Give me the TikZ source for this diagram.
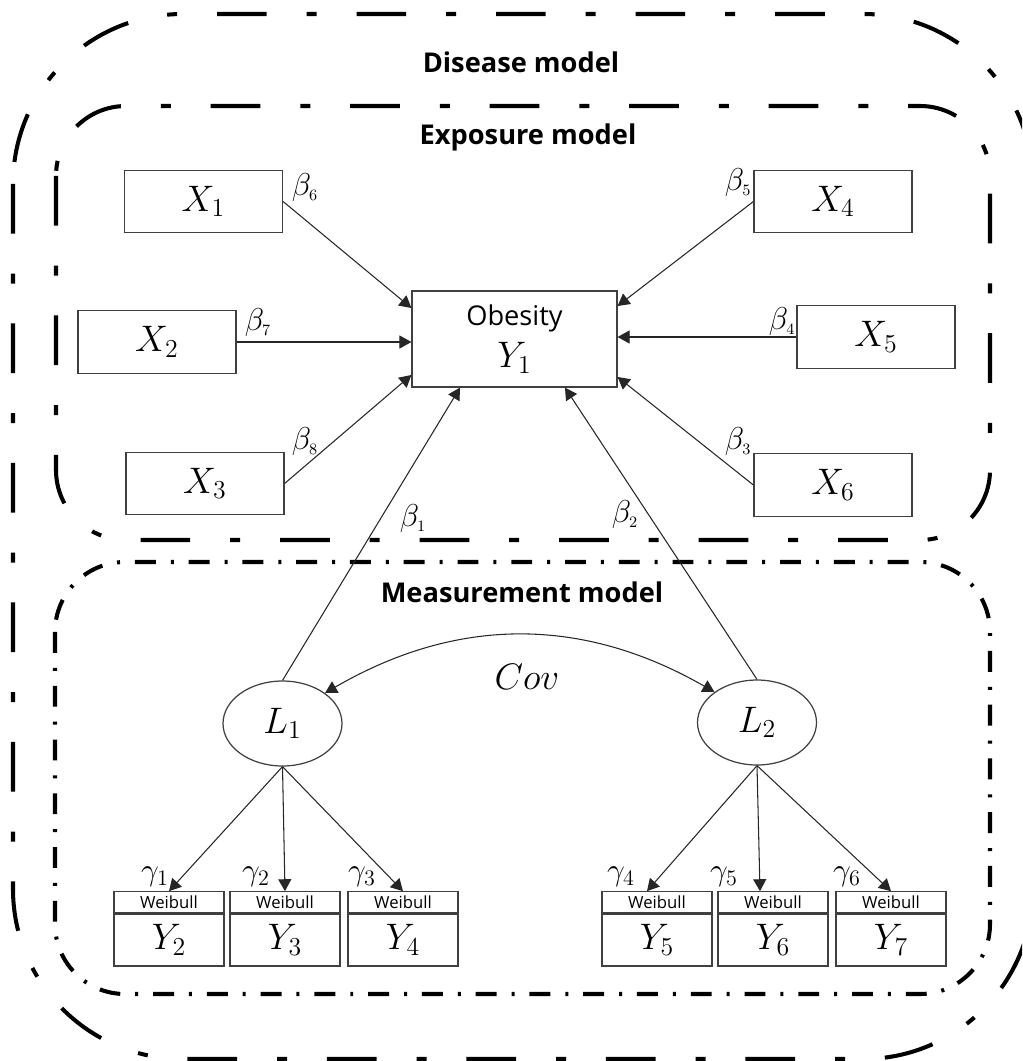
\RequirePackage{fix-cm}
\documentclass[tikz,border=0pt]{standalone}
\usepackage{fontspec}
\setmainfont{Open Sans}
\usetikzlibrary{arrows.meta, shapes.geometric}

\tikzset{
  >={Triangle[length=6.8pt, width=7.4pt]},
  model/.style={line width=2.3pt, rounded corners=1.4cm},
  longdashdot/.style={dash pattern=on 28.3pt off 22.7pt on 5.7pt off 22.7pt},
  shortdashdot/.style={dash pattern=on 11.9pt off 8.5pt on 1.7pt off 8.5pt},
  title/.style={font=\fontsize{15.5}{18}\selectfont\bfseries},
  obs/.style={draw=black!75, line width=0.7pt, minimum width=3.16cm, minimum height=1.25cm, font=\fontsize{21}{25}\selectfont},
  latent/.style={ellipse, draw=black!75, line width=0.7pt, minimum width=2.38cm, minimum height=1.7cm, inner sep=0pt, font=\fontsize{21}{25}\selectfont},
  wtop/.style={draw=black!75, line width=0.7pt, minimum width=2.2cm, minimum height=0.42cm, inner sep=0pt, font=\fontsize{9.5}{10}\selectfont},
  wbox/.style={draw=black!75, line width=0.7pt, minimum width=2.2cm, minimum height=1.04cm, inner sep=0pt, font=\fontsize{21}{25}\selectfont},
  link/.style={->, line width=0.6pt, draw=black!85},
  cov/.style={<->, line width=0.6pt, draw=black!85},
  coef/.style={inner sep=0pt, font=\fontsize{18}{20}\selectfont}
}

\begin{document}
\begin{tikzpicture}[x=0.02cm, y=-0.02cm]
\useasboundingbox (0,0) rectangle (1022,1061);
\clip (0,0) rectangle (1022,1061);

% the three model frames
\draw[model, longdashdot, rounded corners=3.4cm] (13,14) rectangle (1033,1059);
\draw[model, longdashdot] (56,106) rectangle (990,540);
\draw[model, shortdashdot] (55,562) rectangle (990,994);

\node[title] (disease) at (521,62) {Disease model};
\node[title] (exposure) at (528,137) {Exposure model};
\node[title] (measure) at (522,592) {Measurement model};

% exposure model
\node[obs, minimum width=4.1cm, minimum height=1.92cm, align=center] (Y1) at (514.5,339)
  {{\fontsize{15.5}{18}\selectfont Obesity}\\[-1pt]$Y_1$};
\node[obs] (X1) at (203.5,201.5) {$X_1$};
\node[obs] (X2) at (157,342) {$X_2$};
\node[obs] (X3) at (205,483.5) {$X_3$};
\node[obs] (X4) at (833,201.5) {$X_4$};
\node[obs] (X5) at (876,337) {$X_5$};
\node[obs] (X6) at (833,485) {$X_6$};

\draw[link] (X1.east) -- ([yshift=0.62cm]Y1.west);
\draw[link] (X2.east) -- (X2.east -| Y1.west);
\draw[link] (X3.east) -- ([yshift=-0.72cm]Y1.west);
\draw[link] (X4.west) -- ([yshift=0.66cm]Y1.east);
\draw[link] (X5.west) -- (X5.west -| Y1.east);
\draw[link] (X6.west) -- ([yshift=-0.76cm]Y1.east);

\node[coef] (b6) at (305,188) {$\beta_{\scriptscriptstyle 6}$};
\node[coef] (b7) at (258,323) {$\beta_{\scriptscriptstyle 7}$};
\node[coef] (b8) at (305,442) {$\beta_{\scriptscriptstyle 8}$};
\node[coef] (b5) at (738,183) {$\beta_{\scriptscriptstyle 5}$};
\node[coef] (b4) at (782,322) {$\beta_{\scriptscriptstyle 4}$};
\node[coef] (b3) at (738,442) {$\beta_{\scriptscriptstyle 3}$};
\node[coef] (b1) at (413,519) {$\beta_{\scriptscriptstyle 1}$};
\node[coef] (b2) at (625,515) {$\beta_{\scriptscriptstyle 2}$};

% measurement model
\node[latent] (L1) at (282.5,723.5) {$L_1$};
\node[latent] (L2) at (757,722.5) {$L_2$};

\draw[link] (L1.north) -- ([xshift=-1.09cm]Y1.south);
\draw[link] (L2.north) -- ([xshift=1.01cm]Y1.south);
\draw[cov] (L1.north east) to[bend left=30] (L2.north west);
\node[font=\fontsize{21}{25}\selectfont] (covlab) at (527,677) {$Cov$};

\node[wbox] (Y2) at (169,940) {$Y_2$};
\node[wbox] (Y3) at (285,940) {$Y_3$};
\node[wbox] (Y4) at (403,940) {$Y_4$};
\node[wbox] (Y5) at (657,940) {$Y_5$};
\node[wbox] (Y6) at (773,940) {$Y_6$};
\node[wbox] (Y7) at (891,940) {$Y_7$};
\node[wtop, anchor=south] (w2) at (Y2.north) {Weibull};
\node[wtop, anchor=south] (w3) at (Y3.north) {Weibull};
\node[wtop, anchor=south] (w4) at (Y4.north) {Weibull};
\node[wtop, anchor=south] (w5) at (Y5.north) {Weibull};
\node[wtop, anchor=south] (w6) at (Y6.north) {Weibull};
\node[wtop, anchor=south] (w7) at (Y7.north) {Weibull};

\draw[link] (L1.south) -- (w2.north);
\draw[link] (L1.south) -- (w3.north);
\draw[link] (L1.south) -- (w4.north);
\draw[link] (L2.south) -- ([xshift=-0.2cm]w5.north);
\draw[link] (L2.south) -- ([xshift=-0.26cm]w6.north);
\draw[link] (L2.south) -- (w7.north);

\node[coef] (g1) at (155,877) {$\gamma_1$};
\node[coef] (g2) at (256,877) {$\gamma_2$};
\node[coef] (g3) at (362,877) {$\gamma_3$};
\node[coef] (g4) at (621,877) {$\gamma_4$};
\node[coef] (g5) at (724,877) {$\gamma_5$};
\node[coef] (g6) at (847,877) {$\gamma_6$};
\end{tikzpicture}
\end{document}
